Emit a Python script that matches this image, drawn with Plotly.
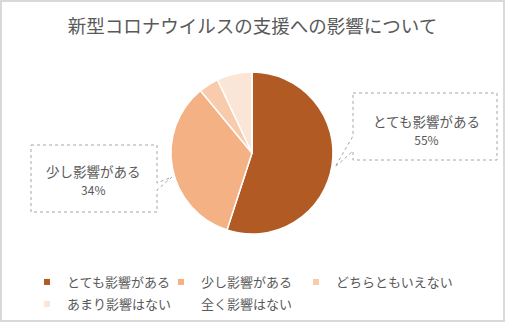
import plotly.graph_objects as go

title = "新型コロナウイルスの支援への影響について"
categories = ["とても影響がある", "少し影響がある", "どちらともいえない", "あまり影響はない", "全く影響はない"]
values = [55, 34, 4, 7, 0]
colors = ["#B15A23", "#F4B183", "#F8CBAD", "#FBE5D6", "#FFFFFF"]
callout_labels = ["とても影響がある<br><span style='font-size:12px'>55%</span>",
                  "少し影響がある<br><span style='font-size:12px'>34%</span>"]

W, H = 505, 322
FONT = "Noto Sans CJK JP"
TXT = "#595959"

def px(x):
    return x / W

def py(y):
    return 1 - y / H

fig = go.Figure()
fig.add_trace(go.Pie(
    labels=categories, values=values, sort=False, direction="clockwise", rotation=0,
    marker=dict(colors=colors, line=dict(color="white", width=1.5)),
    textinfo="none", hoverinfo="label+percent", showlegend=False,
    domain=dict(x=[px(171), px(333)], y=[py(234), py(72)]),
))

# legend entry slots (text start x, row centre y) in pixels
legend_slots = [(67, 282), (201, 282), (336, 282), (67, 304), (201, 304)]
legend_names = ["legend", "legend2", "legend3", "legend4", "legend5"]

for c, col, ln in zip(categories, colors, legend_names):
    fig.add_trace(go.Scatter(
        x=[None], y=[None], mode="markers", name=c,
        marker=dict(symbol="square", size=6, color=col),
        legend=ln,
    ))

def callout(path):
    return dict(type="path", path=path, xref="paper", yref="paper",
                line=dict(color="#A6A6A6", width=1, dash="dot"), fillcolor="rgba(0,0,0,0)")

def P(pts):
    return "M " + " L ".join(f"{px(x)},{py(y)}" for x, y in pts) + " Z"

shapes = [
    dict(type="rect", xref="paper", yref="paper", x0=px(1), x1=px(504), y0=py(321), y1=py(1),
         line=dict(color="#D9D9D9", width=2)),
    callout(P([(353, 93), (497, 93), (497, 160), (353, 160), (353, 151), (335, 167), (353, 136)])),
    callout(P([(31, 145), (157, 145), (157, 183), (172, 177), (157, 190), (157, 212), (31, 212)])),
]

annotations = [
    dict(text=callout_labels[0], x=px(426), y=py(129), xref="paper", yref="paper",
         xanchor="center", yanchor="middle",
         showarrow=False, font=dict(size=13.5, color=TXT, family=FONT), align="center"),
    dict(text=callout_labels[1], x=px(93), y=py(180), xref="paper", yref="paper",
         xanchor="center", yanchor="middle",
         showarrow=False, font=dict(size=13.5, color=TXT, family=FONT), align="center"),
]

legend_common = dict(orientation="h", itemwidth=30, font=dict(size=13, color=TXT, family=FONT),
                     bgcolor="rgba(0,0,0,0)", xanchor="left", yanchor="middle")

legends = {ln: dict(x=px(sx - 40), y=py(sy), **legend_common)
           for ln, (sx, sy) in zip(legend_names, legend_slots)}

fig.update_layout(
    width=W, height=H, margin=dict(l=0, r=0, t=0, b=0),
    paper_bgcolor="white", plot_bgcolor="white",
    title=dict(text=title, x=0.5, xanchor="center", y=py(27), yanchor="middle",
               font=dict(size=18.5, color=TXT, family=FONT)),
    xaxis=dict(visible=False), yaxis=dict(visible=False),
    shapes=shapes, annotations=annotations,
    font=dict(family=FONT, color=TXT),
    **legends,
)

fig.write_html("out.html")
